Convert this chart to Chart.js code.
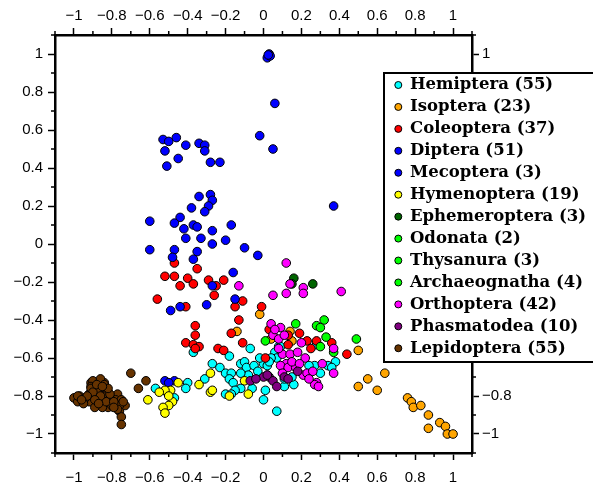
<!DOCTYPE html>
<html>
<head>
<meta charset="utf-8">
<script src="https://cdn.jsdelivr.net/npm/chart.js@4.4.1/dist/chart.umd.min.js"></script>
<style>
  body { margin: 0; background: #fff; }
  #wrap { width: 593px; height: 482px; }
</style>
</head>
<body>
<div id="wrap"><canvas id="insectChart"></canvas></div>
<script>
// order names and counts as in the legend
const orderNames = ['Hemiptera', 'Isoptera', 'Coleoptera', 'Diptera', 'Mecoptera', 'Hymenoptera',
  'Ephemeroptera', 'Odonata', 'Thysanura', 'Archaeognatha', 'Orthoptera', 'Phasmatodea', 'Lepidoptera'];
const orderCounts = [55, 23, 37, 51, 3, 19, 3, 2, 3, 4, 42, 10, 55];

// axis ticks
const majorTicks = [-1, -0.8, -0.6, -0.4, -0.2, 0, 0.2, 0.4, 0.6, 0.8, 1];
const minorTicks = [-1.1, -0.9, -0.7, -0.5, -0.3, -0.1, 0.1, 0.3, 0.5, 0.7, 0.9, 1.1];

// points [x, y]
const hemiptera = [[0.08,-0.54],[0.06,-0.57],[0.07,-0.60],[0.0,-0.63],[0.02,-0.64],[0.02,-0.69],[0.01,-0.77],
  [0.11,-0.75],[0.16,-0.74],[0.11,-0.71],[0.27,-0.64],[0.30,-0.68],[0.34,-0.64],[0.38,-0.62],[0.36,-0.65],
  [0.07,-0.88],[0.28,-0.53],[-0.37,-0.57],[-0.18,-0.59],[-0.07,-0.55],[-0.27,-0.63],[-0.23,-0.65],[-0.20,-0.68],
  [-0.17,-0.68],[-0.12,-0.63],[-0.10,-0.62],[-0.09,-0.65],[-0.05,-0.64],[-0.03,-0.67],[-0.08,-0.69],[-0.12,-0.68],
  [-0.18,-0.71],[-0.16,-0.73],[-0.12,-0.76],[-0.15,-0.77],[-0.20,-0.79],[-0.17,-0.79],[-0.31,-0.71],[-0.40,-0.73],
  [-0.41,-0.76],[-0.57,-0.76],[-0.51,-0.78],[-0.47,-0.81],[0.0,-0.82],[0.04,-0.60],[0.15,-0.70],[-0.02,-0.60],
  [0.24,-0.64],[-0.06,-0.76],[0.03,-0.62],[0.09,-0.54]];
const isoptera = [[-0.02,-0.37],[-0.14,-0.46],[0.14,-0.46],[0.04,-0.50],[0.15,-0.51],[0.50,-0.56],[0.50,-0.75],
  [0.55,-0.71],[0.60,-0.77],[0.64,-0.68],[0.76,-0.81],[0.78,-0.83],[0.79,-0.86],[0.83,-0.85],[0.87,-0.90],
  [0.87,-0.97],[0.93,-0.94],[0.96,-0.96],[0.97,-1.0],[1.0,-1.0]];
const coleoptera = [[-0.47,-0.10],[-0.35,-0.13],[-0.52,-0.17],[-0.47,-0.17],[-0.40,-0.18],[-0.37,-0.21],[-0.44,-0.22],
  [-0.29,-0.19],[-0.25,-0.22],[-0.21,-0.19],[-0.26,-0.27],[-0.56,-0.29],[-0.41,-0.33],[-0.11,-0.30],[-0.15,-0.33],
  [-0.01,-0.33],[-0.13,-0.40],[-0.36,-0.43],[-0.36,-0.48],[-0.17,-0.47],[0.03,-0.45],[0.13,-0.48],[0.19,-0.47],
  [0.23,-0.51],[0.28,-0.51],[0.25,-0.55],[0.36,-0.52],[0.44,-0.58],[0.13,-0.53],[-0.41,-0.52],[-0.37,-0.53],
  [-0.34,-0.54],[-0.36,-0.55],[-0.24,-0.55],[-0.21,-0.56],[-0.11,-0.52],[0.01,-0.60]];
const diptera = [[0.03,1.0],[0.02,0.98],[0.035,0.99],[0.06,0.74],[-0.02,0.57],[0.05,0.50],[-0.53,0.55],[-0.50,0.54],
  [-0.52,0.49],[-0.46,0.56],[-0.41,0.52],[-0.51,0.41],[-0.45,0.45],[-0.34,0.53],[-0.31,0.52],[-0.31,0.49],
  [-0.28,0.43],[-0.23,0.43],[-0.34,0.25],[-0.28,0.26],[-0.27,0.23],[-0.38,0.19],[-0.29,0.20],[-0.31,0.17],
  [-0.44,0.14],[-0.47,0.11],[-0.60,0.12],[-0.37,0.10],[-0.35,0.09],[-0.42,0.08],[-0.27,0.07],[-0.17,0.10],
  [-0.41,0.03],[-0.33,0.03],[-0.20,0.02],[-0.27,0.0],[-0.10,-0.02],[-0.03,-0.06],[-0.60,-0.03],[-0.47,-0.03],
  [-0.35,-0.04],[-0.48,-0.07],[-0.37,-0.08],[-0.16,-0.15],[-0.27,-0.22],[-0.15,-0.29],[-0.44,-0.33],[-0.49,-0.35],
  [-0.30,-0.32],[0.37,0.20],[0.025,0.995]];
const mecoptera = [[-0.52,-0.72],[-0.47,-0.72],[-0.50,-0.73]];
const hymenoptera = [[-0.28,-0.68],[-0.34,-0.74],[-0.28,-0.78],[-0.10,-0.72],[-0.08,-0.79],[-0.18,-0.80],[-0.45,-0.73],
  [-0.49,-0.77],[-0.52,-0.77],[-0.48,-0.83],[-0.61,-0.82],[-0.50,-0.85],[-0.53,-0.86],[-0.52,-0.89],[-0.55,-0.78],
  [-0.50,-0.80],[-0.27,-0.77]];
const ephemeroptera = [[0.16,-0.18],[0.15,-0.21],[0.26,-0.21]];
const odonata = [[0.49,-0.50],[0.37,-0.57]];
const thysanura = [[0.32,-0.40],[0.17,-0.42],[0.01,-0.51]];
const archaeognatha = [[0.28,-0.43],[0.30,-0.44],[0.33,-0.49],[0.30,-0.54]];
const orthoptera = [[0.12,-0.10],[-0.13,-0.22],[0.05,-0.27],[0.12,-0.26],[0.14,-0.21],[0.04,-0.42],[0.09,-0.44],
  [0.05,-0.48],[0.21,-0.23],[0.21,-0.26],[0.41,-0.25],[0.08,-0.50],[0.11,-0.48],[0.10,-0.58],[0.14,-0.58],
  [0.37,-0.55],[0.22,-0.60],[0.31,-0.63],[0.37,-0.68],[0.12,-0.63],[0.09,-0.64],[0.13,-0.65],[0.17,-0.65],
  [0.21,-0.69],[0.23,-0.68],[0.26,-0.67],[0.28,-0.73],[0.27,-0.74],[0.29,-0.75],[0.10,-0.68],[0.18,-0.57],
  [0.06,-0.45],[0.15,-0.62],[0.24,-0.71],[0.19,-0.63],[0.08,-0.55],[0.20,-0.52]];
const phasmatodea = [[0.18,-0.67],[0.03,-0.70],[0.05,-0.72],[0.07,-0.75],[0.0,-0.70],[-0.07,-0.72],[-0.04,-0.71],
  [0.11,-0.70],[0.02,-0.69],[0.13,-0.71]];
const lepidoptera = [[-0.70,-0.68],[-0.62,-0.72],[-0.66,-0.76],[-1.0,-0.81],[-0.97,-0.80],[-0.98,-0.83],[-0.91,-0.73],
  [-0.90,-0.72],[-0.91,-0.75],[-0.84,-0.73],[-0.87,-0.76],[-0.84,-0.77],[-0.92,-0.79],[-0.90,-0.80],[-0.87,-0.78],
  [-0.85,-0.80],[-0.83,-0.80],[-0.80,-0.81],[-0.77,-0.79],[-0.78,-0.82],[-0.75,-0.82],[-0.73,-0.85],[-0.92,-0.83],
  [-0.88,-0.83],[-0.84,-0.84],[-0.82,-0.86],[-0.85,-0.86],[-0.80,-0.85],[-0.76,-0.85],[-0.76,-0.88],[-0.75,-0.91],
  [-0.75,-0.95],[-0.94,-0.81],[-0.89,-0.86],[-0.83,-0.83],[-0.79,-0.83],[-0.91,-0.76],[-0.86,-0.71],[-0.84,-0.74],
  [-0.98,-0.80],[-0.95,-0.84],[-0.90,-0.78],[-0.77,-0.87],[-0.74,-0.83],[-0.88,-0.74],[-0.86,-0.80],[-0.81,-0.79],
  [-0.93,-0.80],[-0.89,-0.82],[-0.82,-0.76],[-0.96,-0.82],[-0.79,-0.86],[-0.87,-0.84],[-0.85,-0.75]];

const orderPoints = [hemiptera, isoptera, coleoptera, diptera, mecoptera, hymenoptera, ephemeroptera,
  odonata, thysanura, archaeognatha, orthoptera, phasmatodea, lepidoptera];
const orderColors = ['#00ffff', '#ffa500', '#ff0000', '#0000ff', '#0000ff', '#ffff00', '#006400',
  '#00ff00', '#00ff00', '#00ff00', '#ff00ff', '#800080', '#663300'];

const tickFont = { family: '"Liberation Sans", Arial, sans-serif', size: 15 };

function fmtTick(v) {
    const r = Math.round(v * 10) / 10;
    return (r < 0 ? '\u2212' : '') + Math.abs(r);
}

// one axis setup, reused for all four sides
function makeAxis(position, size, pad) {
    const horizontal = position === 'top' || position === 'bottom';
    return {
        type: 'linear',
        position: position,
        min: -1.1,
        max: 1.1,
        afterBuildTicks: function(scale) {
            scale.ticks = majorTicks.map(v => ({ value: v }));
        },
        afterFit: function(scale) {
            if (horizontal) scale.height = size; else scale.width = size;
        },
        ticks: {
            callback: fmtTick,
            font: tickFont,
            color: '#000',
            padding: pad,
            maxRotation: 0,
            autoSkip: false
        },
        grid: {
            drawOnChartArea: false,
            drawTicks: true,
            tickLength: 7,
            tickWidth: 1.5,
            tickColor: '#000'
        },
        border: { display: true, color: '#000', width: 2.5 }
    };
}

// small ticks every 0.1 plus the boxed legend drawn over the plot
const extrasPlugin = {
    id: 'extras',
    afterDraw: function(chart) {
        const ctx = chart.ctx;
        const a = chart.chartArea;
        const xs = chart.scales.x, ys = chart.scales.y;
        ctx.save();
        ctx.strokeStyle = '#000';
        ctx.lineWidth = 1.5;
        ctx.beginPath();
        minorTicks.forEach(function(v) {
            const px = xs.getPixelForValue(v);
            const py = ys.getPixelForValue(v);
            ctx.moveTo(px, a.top); ctx.lineTo(px, a.top - 4);
            ctx.moveTo(px, a.bottom); ctx.lineTo(px, a.bottom + 4);
            ctx.moveTo(a.left, py); ctx.lineTo(a.left - 4, py);
            ctx.moveTo(a.right, py); ctx.lineTo(a.right + 4, py);
        });
        ctx.stroke();

        // legend box
        const bx = 384, by = 73, bw = 240, bh = 289, rowH = 21.94;
        ctx.fillStyle = '#fff';
        ctx.fillRect(bx, by, bw, bh);
        ctx.lineWidth = 2;
        ctx.strokeRect(bx, by, bw, bh);
        ctx.font = 'bold 16.5px "DejaVu Serif", serif';
        ctx.textBaseline = 'middle';
        orderNames.forEach(function(name, i) {
            const cy = 85 + i * rowH;
            ctx.beginPath();
            ctx.arc(398.3, cy, 3.5, 0, Math.PI * 2);
            ctx.fillStyle = orderColors[i];
            ctx.fill();
            ctx.lineWidth = 1;
            ctx.stroke();
            ctx.fillStyle = '#000';
            ctx.fillText(name + ' (' + orderCounts[i] + ')', 410, cy);
        });
        ctx.restore();
    }
};

const datasets = orderNames.map(function(name, i) {
    return {
        label: name + ' (' + orderCounts[i] + ')',
        data: orderPoints[i].map(p => ({ x: p[0], y: p[1] })),
        backgroundColor: orderColors[i],
        borderColor: '#000',
        borderWidth: 1,
        pointRadius: 4.3,
        order: orderNames.length - i  // later orders sit on top
    };
});

const ctx = document.getElementById('insectChart').getContext('2d');
const myChart = new Chart(ctx, {
    type: 'scatter',
    data: { datasets: datasets },
    options: {
        responsive: true,
        maintainAspectRatio: false,
        animation: false,
        devicePixelRatio: 1,
        layout: { padding: 0 },
        plugins: {
            legend: { display: false },
            tooltip: { enabled: false }
        },
        scales: {
            x: makeAxis('bottom', 29, 9),
            x2: makeAxis('top', 35, 3),
            y: makeAxis('left', 55, 5),
            y2: makeAxis('right', 121, 3)
        }
    },
    plugins: [extrasPlugin]
});
</script>
</body>
</html>
